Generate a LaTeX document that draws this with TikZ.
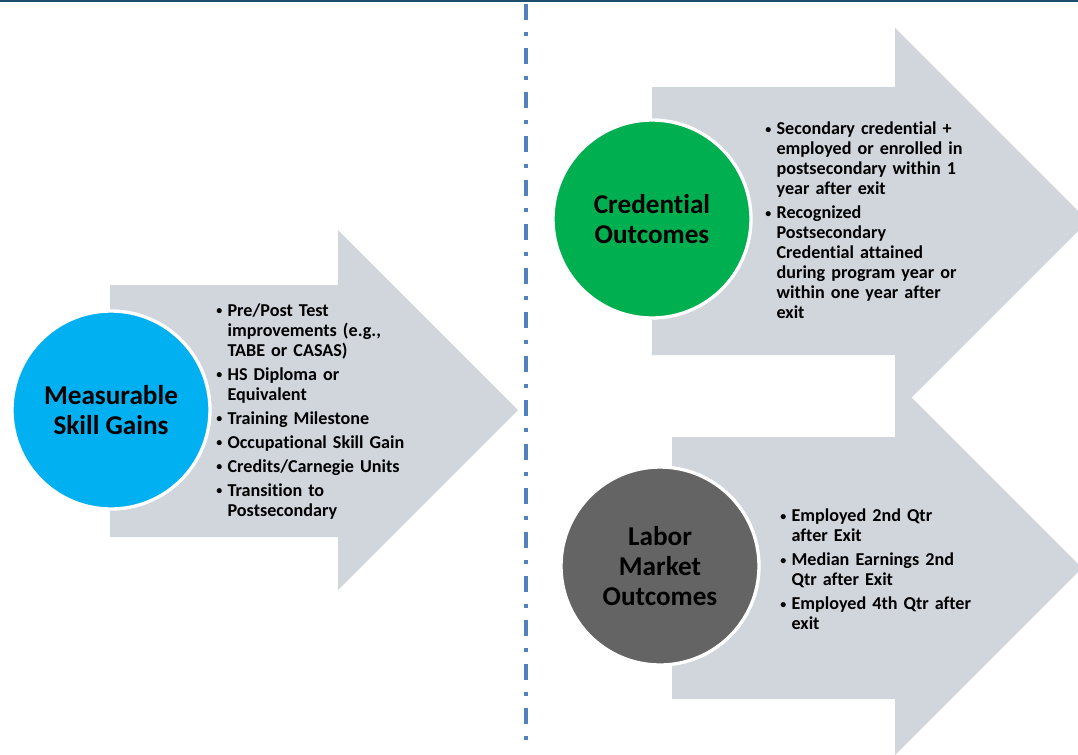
\documentclass[tikz,border=0pt]{standalone}
\usepackage{fontspec}
\setmainfont{Carlito}[Ligatures={NoCommon}]
\usepackage{enumitem}

\definecolor{topline}{HTML}{1B4F6B}
\definecolor{divider}{HTML}{4F81BD}
\definecolor{arrowgray}{HTML}{D1D5DC}
\definecolor{skillblue}{HTML}{00B0F0}
\definecolor{credgreen}{HTML}{00B050}
\definecolor{labordark}{HTML}{646464}

\newcommand{\bulletfont}{\fontsize{13.6}{15}\selectfont\bfseries}
\newenvironment{outcomes}{\begin{itemize}[label={\raisebox{0.2ex}{\small\textbullet}},leftmargin=8.5pt,labelsep=4pt,
  itemsep=3pt,parsep=0pt,topsep=0pt,partopsep=0pt]}{\end{itemize}}

\tikzset{
  bubble/.style={circle,draw=white,line width=2.5pt,inner sep=0pt,align=center,minimum size=148.5pt,
    text=black,font=\fontsize{20.4}{22.5}\selectfont\bfseries},
  itemlist/.style={anchor=west,text width=170pt,align=left,inner sep=0pt,font=\bulletfont}
}

\begin{document}
\begin{tikzpicture}[x=0.75pt,y=-0.75pt]
\useasboundingbox (0,0) rectangle (1078,754);
\clip (0,0) rectangle (1078,754);

% rule on top and the divider
\draw[topline,line width=1.5pt] (0,1) -- (1078,1);
\draw[divider,line width=3pt,dash pattern=on 12pt off 9pt on 3pt off 9pt] (526,4) -- (526,742);

% big arrows
\fill[arrowgray] (672,437) -- (895,437) -- (895,381) -- (1082,568) -- (895,755) -- (895,699) -- (672,699) -- cycle;
\fill[arrowgray] (652,87) -- (895,87) -- (895,28) -- (1088,221) -- (895,414) -- (895,355) -- (652,355) -- cycle;
\fill[arrowgray] (110,285) -- (338,285) -- (338,230) -- (518,410) -- (338,590) -- (338,537) -- (110,537) -- cycle;

% circles
\node[bubble,fill=skillblue] (skill) at (111,410) {Measurable\\Skill Gains};
\node[bubble,fill=credgreen] (cred) at (652,219) {Credential\\Outcomes};
\node[bubble,fill=labordark] (labor) at (660,566) {Labor\\Market\\Outcomes};

% lists
\node[itemlist] (skilllist) at (216,408) {\begin{outcomes}
  \item Pre/Post Test\newline improvements (e.g.,\newline TABE or CASAS)
  \item HS Diploma or\newline Equivalent
  \item Training Milestone
  \item Occupational Skill Gain
  \item Credits/Carnegie Units
  \item Transition to\newline Postsecondary
\end{outcomes}};
\node[itemlist] (credlist) at (765,217) {\begin{outcomes}
  \item Secondary credential +\newline employed or enrolled in\newline postsecondary within 1\newline year after exit
  \item Recognized\newline Postsecondary\newline Credential attained\newline during program year or\newline within one year after\newline exit
\end{outcomes}};
\node[itemlist] (laborlist) at (780,566) {\begin{outcomes}
  \item Employed 2nd Qtr\newline after Exit
  \item Median Earnings 2nd\newline Qtr after Exit
  \item Employed 4th Qtr after\newline exit
\end{outcomes}};

\end{tikzpicture}
\end{document}
